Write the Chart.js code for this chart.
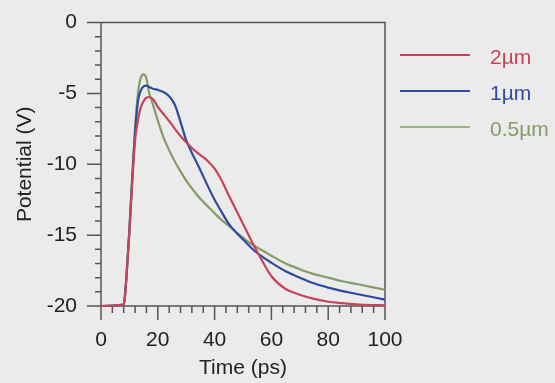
<!DOCTYPE html>
<html>
<head>
<meta charset="utf-8">
<script src="https://cdn.jsdelivr.net/npm/chart.js@4.4.0/dist/chart.umd.min.js"></script>
<style>
  html, body { margin: 0; padding: 0; background: #ebebeb; }
  #wrap { width: 555px; height: 383px; position: relative; }
</style>
</head>
<body>
<div id="wrap"><canvas id="potChart"></canvas></div>
<script>
/* potential vs time, three gate lengths */

const TIME = [0, 8, 8.5, 9, 10, 11, 12, 13, 14, 15, 16, 17, 18, 19, 20, 22, 24, 26, 28, 30,
              32, 34, 36, 38, 40, 42, 45, 48, 51, 54, 57, 60, 65, 70, 75, 80, 85, 90, 95, 100];

const V_2UM = [-20, -19.9, -19.2, -17.9, -14.8, -11.3, -8.3, -6.9, -6.0, -5.55, -5.3, -5.25, -5.35, -5.6, -5.95, -6.45, -6.95, -7.5, -8.0, -8.45,
               -8.85, -9.2, -9.5, -9.85, -10.3, -10.95, -12.2, -13.4, -14.6, -15.8, -16.9, -17.9, -18.8, -19.2, -19.5, -19.7, -19.8, -19.88, -19.93, -19.95];

const V_1UM = [-20, -19.9, -19.1, -17.8, -14.6, -11.0, -7.8, -5.6, -4.8, -4.5, -4.45, -4.55, -4.65, -4.7, -4.75, -4.9, -5.2, -5.8, -7.0, -8.3,
               -9.2, -10.0, -10.85, -11.7, -12.5, -13.2, -14.2, -14.9, -15.5, -16.1, -16.55, -16.95, -17.55, -18.0, -18.4, -18.7, -18.95, -19.15, -19.35, -19.55];

const V_05UM = [-20, -19.9, -19.1, -17.8, -14.6, -10.9, -7.4, -5.0, -3.9, -3.65, -3.95, -5.0, -5.6, -6.25, -6.9, -8.1, -9.0, -9.8, -10.5, -11.15,
                -11.7, -12.2, -12.65, -13.05, -13.45, -13.85, -14.35, -14.85, -15.35, -15.75, -16.1, -16.45, -17.0, -17.4, -17.75, -18.0, -18.25, -18.45, -18.65, -18.85];

const SERIES_LABELS = ['2\u00b5m', '1\u00b5m', '0.5\u00b5m'];
const SERIES_COLORS = ['#c6445a', '#2d4ca0', '#859c68'];

const X_TICKS = [0, 20, 40, 60, 80, 100];
const Y_TICKS = [-20, -15, -10, -5, 0];

const FONT = "'Liberation Sans', Arial, sans-serif";
const AXIS = '#555555';
const TEXT = '#222222';

function pts(vals) {
  return TIME.map((t, i) => ({ x: t, y: vals[i] }));
}

/* ── frame, minor/major ticks, legend ── */
const frameTicks = {
  id: 'frameTicks',
  beforeDatasetsDraw(chart) {
    const { ctx, chartArea: a, scales: { x, y } } = chart;
    ctx.save();
    ctx.strokeStyle = AXIS;
    ctx.lineWidth = 1.5;
    ctx.beginPath();
    // box
    ctx.moveTo(a.left, a.bottom + 12);
    ctx.lineTo(a.left, a.top);
    ctx.lineTo(a.right, a.top);
    ctx.lineTo(a.right, a.bottom);
    ctx.moveTo(a.left - 12, a.bottom);
    ctx.lineTo(a.right, a.bottom);
    // y ticks every 1 V, long ones at the labels
    for (let v = y.min; v <= y.max; v++) {
      const py = y.getPixelForValue(v);
      const major = Y_TICKS.includes(v);
      ctx.moveTo(a.left - (major ? 14 : 6), py);
      ctx.lineTo(a.left, py);
    }
    // x ticks every 4 ps
    for (let v = x.min; v <= x.max; v += 4) {
      const px = x.getPixelForValue(v);
      const major = X_TICKS.includes(v);
      ctx.moveTo(px, a.bottom);
      ctx.lineTo(px, a.bottom + (major ? 14 : 7));
    }
    ctx.stroke();
    ctx.restore();
  },
  afterDraw(chart) {
    const { ctx } = chart;
    const rows = [55, 91, 127];
    ctx.save();
    ctx.font = '21px ' + FONT;
    ctx.textBaseline = 'middle';
    SERIES_LABELS.forEach((label, i) => {
      ctx.strokeStyle = SERIES_COLORS[i];
      ctx.lineWidth = i === 2 ? 1.5 : 2;
      ctx.beginPath();
      ctx.moveTo(400, rows[i]);
      ctx.lineTo(470, rows[i]);
      ctx.stroke();
      ctx.fillStyle = SERIES_COLORS[i];
      ctx.fillText(label, 490, rows[i] + 3);
    });
    ctx.restore();
  },
};

const datasets = [V_2UM, V_1UM, V_05UM].map((vals, i) => ({
  label: SERIES_LABELS[i],
  data: pts(vals),
  borderColor: SERIES_COLORS[i],
  borderWidth: 2.2,
  pointRadius: 0,
  cubicInterpolationMode: 'monotone',
  clip: 4,
  order: i,   // red drawn last, on top
}));

new Chart(document.getElementById('potChart'), {
  type: 'line',
  data: { datasets },
  options: {
    responsive: true,
    maintainAspectRatio: false,
    animation: false,
    layout: { padding: { top: 19, right: 170, left: 0, bottom: 0 } },
    plugins: { legend: { display: false }, tooltip: { enabled: false } },
    scales: {
      x: {
        type: 'linear',
        min: 0, max: 100,
        afterBuildTicks: s => { s.ticks = X_TICKS.map(v => ({ value: v })); },
        afterFit: s => { s.height = 77; },
        border: { display: false },
        grid: { drawOnChartArea: false, drawTicks: true, tickLength: 14, tickColor: 'rgba(0,0,0,0)' },
        ticks: { color: TEXT, font: { size: 21, family: FONT }, padding: 8, maxRotation: 0 },
        title: { display: true, text: 'Time (ps)', color: TEXT, font: { size: 21, family: FONT }, padding: { top: 0, bottom: 2 } },
      },
      y: {
        min: -20, max: 0,
        afterBuildTicks: s => { s.ticks = Y_TICKS.map(v => ({ value: v })); },
        afterFit: s => { s.width = 101; },
        border: { display: false },
        grid: { drawOnChartArea: false, drawTicks: true, tickLength: 14, tickColor: 'rgba(0,0,0,0)' },
        ticks: { color: TEXT, font: { size: 21, family: FONT }, padding: 10 },
        title: { display: true, text: 'Potential (V)', color: TEXT, font: { size: 21, family: FONT }, padding: { top: 13, bottom: 0 } },
      },
    },
  },
  plugins: [frameTicks],
});
</script>
</body>
</html>
